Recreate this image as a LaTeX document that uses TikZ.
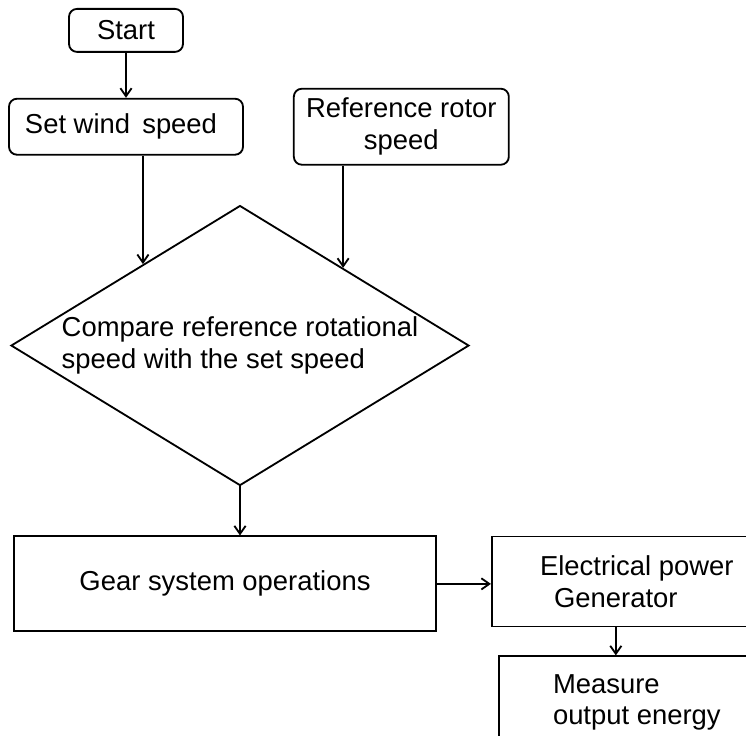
\documentclass[tikz,border=0pt]{standalone}
\usepackage{fontspec}
\setmainfont{Liberation Sans}
\usetikzlibrary{arrows.meta,positioning,shapes.geometric}

\begin{document}
\begin{tikzpicture}[>={Straight Barb[length=2mm,width=2.8mm]}, line width=1.3pt,
  every node/.style={font=\fontsize{19.5}{22.5}\selectfont},
  rbox/.style={draw, rounded corners=0.2cm, align=center, inner sep=2pt},
  sbox/.style={draw, align=center},
  cmp/.style={draw, diamond, aspect=1.636, minimum width=11.45cm, minimum height=7cm, inner sep=0pt, align=left}]
\useasboundingbox (0,0) rectangle (18.65,-18.4);
\clip (0,0) rectangle (18.65,-18.4);
\node[rbox, minimum width=2.85cm, minimum height=1.075cm] (start) at (3.15,-0.76) {Start};
\node[rbox, below=1.125cm of start, minimum width=5.85cm, minimum height=1.4cm] (wind) {Set wind\, speed\hspace*{0.25cm}};
\node[rbox, right=1.225cm of wind, minimum width=5.375cm, minimum height=1.9cm] (ref) {Reference rotor\\speed};
\node[cmp, below=1.225cm of wind, xshift=2.85cm] (compare) {Compare reference rotational\\speed with the set speed};
\node[sbox, below=1.225cm of compare, xshift=-0.375cm, minimum width=10.55cm, minimum height=2.375cm] (gear) {Gear system operations};
\node[sbox, right=1.35cm of gear, yshift=0.06cm, minimum width=7.25cm, minimum height=2.25cm, align=left] (elec) {Electrical power\\\hspace*{0.35cm}Generator};
\node[sbox, below=0.7cm of elec, minimum width=6.9cm, minimum height=2.3cm, align=left] (meas) {Measure\\output energy};
\draw[->] (start.south) -- (start.south |- wind.north);
\draw[->] (wind.south -| compare.140) -- (compare.140);
\draw[->] (ref.south -| compare.37) -- (compare.37);
\draw[->] (compare.south) -- (compare.south |- gear.north);
\draw[->] (gear.east) -- (gear.east -| elec.west);
\draw[->] ([xshift=-0.525cm]elec.south) -- ([xshift=-0.525cm]elec.south |- meas.north);
\end{tikzpicture}
\end{document}
